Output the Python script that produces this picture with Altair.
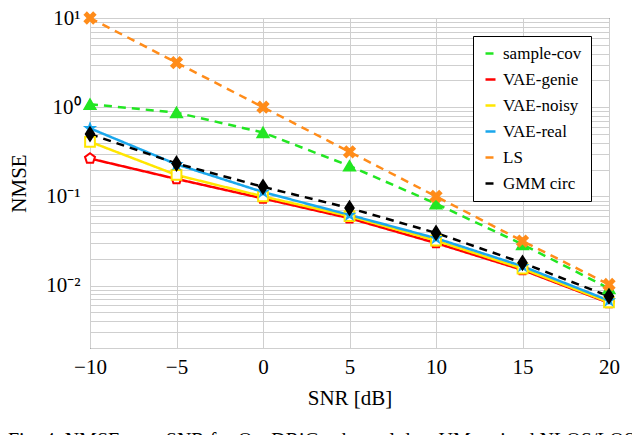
import altair as alt
import pandas as pd

snr = [-10, -5, 0, 5, 10, 15, 20]
series_names = ["sample-cov", "VAE-genie", "VAE-noisy", "VAE-real", "LS", "GMM circ"]
sample_cov = [1.08, 0.87, 0.52, 0.22, 0.083, 0.029, 0.0093]
vae_genie = [0.266, 0.157, 0.095, 0.057, 0.030, 0.015, 0.0064]
vae_noisy = [0.41, 0.174, 0.100, 0.060, 0.032, 0.0155, 0.0065]
vae_real = [0.58, 0.229, 0.112, 0.062, 0.034, 0.0165, 0.0068]
ls = [10.0, 3.16, 1.0, 0.316, 0.1, 0.0316, 0.0103]
gmm_circ = [0.50, 0.234, 0.128, 0.074, 0.039, 0.018, 0.0076]
all_values = [sample_cov, vae_genie, vae_noisy, vae_real, ls, gmm_circ]

x_ticks = [-10, -5, 0, 5, 10, 15, 20]
y_ticks = [k * 10.0 ** e for e in range(-3, 1) for k in range(1, 10) if k * 10.0 ** e >= 0.00199] + [10.0]

colors = ["#22e622", "#ff0000", "#ffe600", "#1aa7ec", "#ff8c1a", "#000000"]
fills = ["#22e622", "#ffffff", "#ffffff", "#1aa7ec", "#ff8c1a", "#000000"]
dashes = [[8, 6], [1, 0], [1, 0], [1, 0], [8, 6], [8, 6]]

pentagon = "M0,-1L0.951,-0.309L0.588,0.809L-0.588,0.809L-0.951,-0.309Z"
star = "M0,-1L0.24,-0.33L0.95,-0.31L0.38,0.12L0.59,0.81L0,0.4L-0.59,0.81L-0.38,0.12L-0.95,-0.31L-0.24,-0.33Z"
xcross = "M-1,-0.6L-0.6,-1L0,-0.4L0.6,-1L1,-0.6L0.4,0L1,0.6L0.6,1L0,0.4L-0.6,1L-1,0.6L-0.4,0Z"
diamond = "M0,-1.25L0.8,0L0,1.25L-0.8,0Z"
shapes = ["triangle-up", pentagon, "square", star, xcross, diamond]
sizes = [120, 110, 95, 80, 110, 110]

rows = []
for name, vals in zip(series_names, all_values):
    for s, v in zip(snr, vals):
        rows.append({"series": name, "snr": s, "nmse": v})
df = pd.DataFrame(rows)

x_enc = alt.X("snr:Q", scale=alt.Scale(domain=[-10, 20], nice=False),
              axis=alt.Axis(values=x_ticks, title="SNR [dB]", grid=True, ticks=False, domain=False,
                            labelExpr="datum.value < 0 ? '\u2212' + abs(datum.value) : datum.label",
                            labelFontSize=21, labelBaseline="alphabetic", labelPadding=25,
                            titleFontSize=21, titleFontWeight="normal", titleBaseline="alphabetic",
                            titleY=56, labelFlush=False, labelOverlap=False))
y_label_expr = (
    "abs(log(datum.value)/LN10 - round(log(datum.value)/LN10)) < 0.001 ? "
    "('10' + (round(log(datum.value)/LN10) == 1 ? '\u00b9' : "
    "round(log(datum.value)/LN10) == 0 ? '\u2070' : "
    "round(log(datum.value)/LN10) == -1 ? '\u207b\u00b9' : '\u207b\u00b2')) : ''"
)
y_enc = alt.Y("nmse:Q", scale=alt.Scale(type="log", domain=[0.002, 10], nice=False),
              axis=alt.Axis(values=y_ticks, title="NMSE", grid=True, ticks=False, domain=False,
                            labelExpr=y_label_expr, labelFontSize=21, labelPadding=10,
                            titleFontSize=21, titleFontWeight="normal", titleBaseline="alphabetic",
                            titleX=-65, labelFlush=False, labelOverlap=False))

base = alt.Chart(df)

legend = alt.Legend(orient="top-right", fillColor="white", strokeColor="black",
                    labelFontSize=17, labelFont="Liberation Serif", labelColor="black",
                    symbolStrokeWidth=2.5, padding=9, rowPadding=8)

lines = base.mark_line(strokeWidth=2.5).encode(
    x=x_enc, y=y_enc,
    color=alt.Color("series:N", title="", scale=alt.Scale(domain=series_names, range=colors), legend=legend),
    strokeDash=alt.StrokeDash("series:N", title="", scale=alt.Scale(domain=series_names, range=dashes), legend=legend),
    order=alt.Order("snr:Q"),
)

marker_layers = []
for name, col, fil, shp, sz in zip(series_names, colors, fills, shapes, sizes):
    marker_layers.append(
        base.transform_filter(alt.datum.series == name).mark_point(
            shape=shp, size=sz, filled=True, fill=fil, stroke=col, strokeWidth=2, opacity=1
        ).encode(x=x_enc, y=y_enc)
    )

chart = alt.layer(lines, *marker_layers).properties(
    width=519, height=330,
    autosize=alt.AutoSizeParams(type="none"),
    padding={"left": 82, "top": 10, "right": 23, "bottom": 95},
    title=alt.TitleParams(
        "Fig. 4.  NMSE over SNR for QuaDRiGa channel data UMa mixed NLOS/LOS scenario.",
        orient="bottom", anchor="start", dx=0, offset=23, fontSize=20,
        fontWeight="normal", font="Liberation Serif", baseline="top",
    ),
).configure(font="Liberation Serif").configure_view(
    stroke="black", strokeWidth=1
).configure_axis(
    gridColor="#cfcfcf", gridWidth=1, labelColor="black", titleColor="black",
    labelFont="Liberation Serif", titleFont="Liberation Serif",
)

chart.save("out.html", embed_options={"renderer": "svg", "actions": False})
